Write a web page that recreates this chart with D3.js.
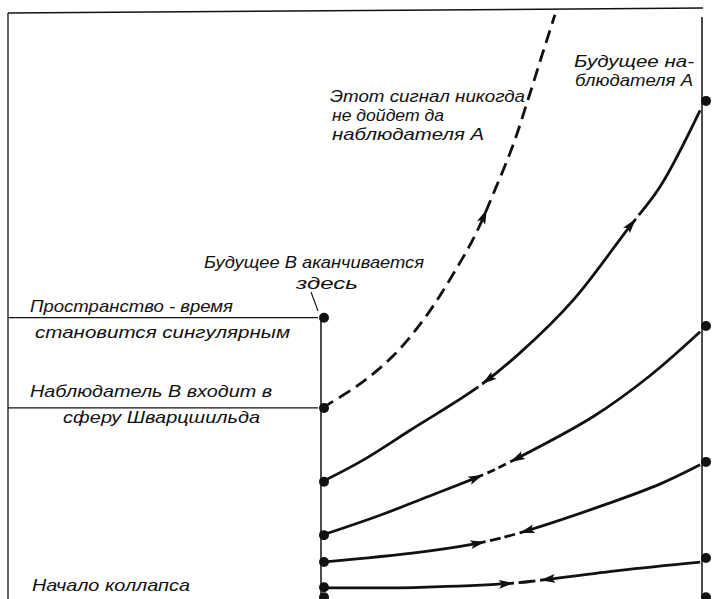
<!DOCTYPE html>
<html>
<head>
<meta charset="utf-8">
<script src="https://cdnjs.cloudflare.com/ajax/libs/d3/7.8.5/d3.min.js"></script>
<style>
  body { margin: 0; background: #fff; }
  text { font-family: "Liberation Sans", Arial, sans-serif; font-style: italic; font-size: 16.5px; fill: #111; }
</style>
</head>
<body>
<div id="chart"></div>
<script>
// time along the worldlines, 0 = start of the collapse, 100 = top of the frame
// events on observer B (the one who falls in)
var bEvents = [48.0, 32.6, 20.0, 10.9, 6.3, 2.0, 0.3];
// events on observer A (the one who stays outside)
var aEvents = [85.0, 46.6, 23.4, 7.0, 0.3];

// r = 0 on B, r = 1 on A ; [r, t]
var lostSignal = [[0, 32.6], [0.100, 36.7], [0.192, 41.8], [0.271, 48.0], [0.342, 55.1],
                  [0.403, 62.1], [0.455, 69.8], [0.503, 77.5], [0.542, 85.2], [0.579, 92.8], [0.613, 99.7]];
var lostArrow = 0.434;

var signal1 = [[0, 20.0], [0.108, 23.7], [0.232, 28.8], [0.411, 36.2], [0.521, 42.0],
               [0.661, 51.0], [0.803, 63.0], [0.889, 70.3], [0.995, 83.4]];
var signal2 = [[0, 10.9], [0.153, 14.3], [0.276, 17.4], [0.424, 21.2], [0.495, 23.4],
               [0.713, 31.1], [0.863, 38.1], [0.995, 45.6]];
var signal3 = [[0, 6.3], [0.258, 8.0], [0.424, 9.7], [0.521, 11.3], [0.758, 16.4],
               [0.889, 19.6], [0.995, 22.9]];
var signal4 = [[0, 1.9], [0.258, 2.0], [0.503, 2.7], [0.574, 3.2], [0.784, 4.9], [0.995, 6.3]];

// arrow tips on each signal: [r, direction] (+1 towards A, -1 towards B)
var arrows1 = [[0.421, -1], [0.826, 1]];
var arrows2 = [[0.424, 1], [0.495, -1]];
var arrows3 = [[0.430, 1], [0.520, -1]];
var arrows4 = [[0.505, 1], [0.574, -1]];

var labelTexts = [
  "Этот сигнал никогда", "не дойдет да", "наблюдателя  A",
  "Будущее на-", "блюдателя A",
  "Будущее B аканчивается", "здесь",
  "Пространство - время", "становится  сингулярным",
  "Наблюдатель B входит в", "сферу  Шварцшильда",
  "Начало коллапса"
];

var width = 712, height = 599;

var svg = d3.select("#chart")
  .append("svg")
  .attr("width", width)
  .attr("height", height);

var x = d3.scaleLinear().domain([0, 1]).range([322, 702]);
var y = d3.scaleLinear().domain([0, 100]).range([599, 13]);

var line = d3.line()
  .x(function(d) { return x(d[0]); })
  .y(function(d) { return y(d[1]); })
  .curve(d3.curveCatmullRom.alpha(0.5));

// frame
svg.append("line")
  .attr("x1", 8).attr("y1", 13).attr("x2", 703).attr("y2", 8)
  .attr("stroke", "#111").attr("stroke-width", 1.5);
svg.append("line")
  .attr("x1", 8).attr("y1", 13).attr("x2", 8).attr("y2", height)
  .attr("stroke", "#111").attr("stroke-width", 1.3);

// worldline of A
svg.append("line")
  .attr("x1", x(1)).attr("y1", y(99.3)).attr("x2", x(1)).attr("y2", y(0))
  .attr("stroke", "#111").attr("stroke-width", 1.5);

// worldline of B, ends at the singularity
svg.append("line")
  .attr("x1", x(0) - 1).attr("y1", y(bEvents[0])).attr("x2", x(0) - 1).attr("y2", y(0))
  .attr("stroke", "#111").attr("stroke-width", 1.5);

// singularity and horizon markers
[bEvents[0], bEvents[1]].forEach(function(t) {
  svg.append("line")
    .attr("x1", 8).attr("y1", y(t)).attr("x2", x(0) - 4).attr("y2", y(t))
    .attr("stroke", "#111").attr("stroke-width", 1.2);
});

// leader to the end of B's future
svg.append("line")
  .attr("x1", 311).attr("y1", 292).attr("x2", 318).attr("y2", 311)
  .attr("stroke", "#111").attr("stroke-width", 1.1);

function lengthAtX(node, px) {
  var lo = 0, hi = node.getTotalLength();
  for (var i = 0; i < 30; i++) {
    var mid = (lo + hi) / 2;
    if (node.getPointAtLength(mid).x < px) lo = mid; else hi = mid;
  }
  return (lo + hi) / 2;
}

function arrowHead(node, Lt, dir) {
  var L = node.getTotalLength();
  var p = node.getPointAtLength(Lt),
      a = node.getPointAtLength(Math.max(0, Lt - 2)),
      b = node.getPointAtLength(Math.min(L, Lt + 2));
  var ux = (b.x - a.x) * dir, uy = (b.y - a.y) * dir;
  var n = Math.sqrt(ux * ux + uy * uy); ux /= n; uy /= n;
  var bx = p.x - ux * 15, by = p.y - uy * 15;
  return [[p.x, p.y], [bx - uy * 4.4, by + ux * 4.4], [bx + ux * 3, by + uy * 3], [bx + uy * 4.4, by - ux * 4.4]];
}

// the signal that never reaches A
var lost = svg.append("path")
  .attr("d", line(lostSignal))
  .attr("fill", "none")
  .attr("stroke", "#111")
  .attr("stroke-width", 2.8)
  .attr("stroke-dasharray", "13,7");
svg.append("polygon")
  .attr("points", arrowHead(lost.node(), lengthAtX(lost.node(), x(lostArrow)), 1).join(" "))
  .attr("fill", "#111");

// signals between B and A
var signals = [[signal1, arrows1], [signal2, arrows2], [signal3, arrows3], [signal4, arrows4]];
var gap = 4.5;

signals.forEach(function(s) {
  var path = svg.append("path")
    .attr("d", line(s[0]))
    .attr("fill", "none")
    .attr("stroke", "#111")
    .attr("stroke-width", 2.8);
  var node = path.node(), L = node.getTotalLength();
  var tips = s[1].map(function(a) { return [lengthAtX(node, x(a[0])), a[1]]; });

  // gaps next to the arrow tips
  var cuts = [];
  tips.forEach(function(t) {
    if (t[1] > 0) cuts.push([t[0], t[0] + gap]); else cuts.push([t[0] - gap, t[0]]);
  });
  if (tips[0][1] > 0 && tips[1][1] < 0) {
    // dashed middle part between the two arrows
    var m0 = tips[0][0] + gap, m1 = tips[1][0] - gap, M = m1 - m0;
    var n = Math.max(1, Math.round(M / 12)), dl = (M - (n - 1) * 4) / n;
    for (var i = 0; i < n - 1; i++) cuts.push([m0 + (i + 1) * dl + i * 4, m0 + (i + 1) * dl + (i + 1) * 4]);
  }
  cuts.sort(function(a, b) { return a[0] - b[0]; });
  var da = [], p0 = 0;
  cuts.forEach(function(c) { da.push(c[0] - p0, c[1] - c[0]); p0 = c[1]; });
  da.push(L - p0 + 1, L);
  path.attr("stroke-dasharray", da.join(","));

  tips.forEach(function(t) {
    svg.append("polygon")
      .attr("points", arrowHead(node, t[0], t[1]).join(" "))
      .attr("fill", "#111");
  });
});

// event dots
svg.selectAll("circle.b")
  .data(bEvents)
  .enter()
  .append("circle")
  .attr("cx", x(0) + 2)
  .attr("cy", function(d) { return y(d); })
  .attr("r", 5)
  .attr("fill", "#111");

svg.selectAll("circle.a")
  .data(aEvents)
  .enter()
  .append("circle")
  .attr("cx", x(1) + 4)
  .attr("cy", function(d) { return y(d); })
  .attr("r", 5)
  .attr("fill", "#111");

// labels: [x, baseline, width]
var labelPos = [
  [330, 102, 195], [332, 121, 112], [332, 140, 152],
  [574, 67, 120], [575, 86, 118],
  [204, 268, 220], [296, 289, 62],
  [30, 312, 203], [35, 338, 255],
  [30, 397, 242], [63, 423, 197],
  [32, 591, 158]
];

svg.selectAll("text.lbl")
  .data(labelTexts)
  .enter()
  .append("text")
  .attr("class", "lbl")
  .attr("x", function(d, i) { return labelPos[i][0]; })
  .attr("y", function(d, i) { return labelPos[i][1]; })
  .attr("textLength", function(d, i) { return labelPos[i][2]; })
  .attr("lengthAdjust", "spacingAndGlyphs")
  .text(function(d) { return d; });
</script>
</body>
</html>
